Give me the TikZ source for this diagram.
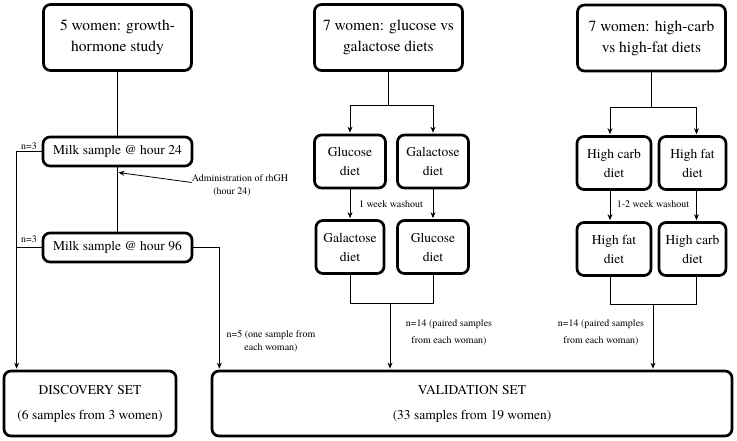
\documentclass[tikz,border=0pt]{standalone}
\usepackage{fontspec}
\setmainfont{TeX Gyre Termes}
\newfontfamily\tms{TeX Gyre Termes}
\usetikzlibrary{arrows.meta}
\begin{document}
\begin{tikzpicture}[x=1pt,y=-1pt,
  box/.style={draw, line width=2.7pt, rounded corners=7pt, align=center, inner sep=0pt},
  title/.style={box, minimum width=148pt, minimum height=66pt, font=\tms\fontsize{15.5}{21}\selectfont},
  milk/.style={box, minimum width=149pt, minimum height=29pt, font=\tms\fontsize{13.5}{16}\selectfont},
  diet/.style={box, minimum height=53pt, font=\tms\fontsize{13.5}{19}\selectfont},
  setbox/.style={box, minimum height=65pt, font=\tms\fontsize{13.5}{25}\selectfont},
  lbl/.style={font=\tms\fontsize{10}{13}\selectfont, align=center, inner sep=0pt},
  lblw/.style={lbl, font=\tms\fontsize{10}{17}\selectfont},
  conn/.style={line width=0.8pt},
  arr/.style={conn, -{Stealth[length=6pt,width=5pt]}, shorten >=1pt}
]
\useasboundingbox (0,0) rectangle (737,440);

% titles
\node[title] (A) at (117.5,37.5) {5 women: growth-\\hormone study};
\node[title] (B) at (388.5,37.5) {7 women: glucose vs\\galactose diets};
\node[title] (C) at (651.5,38) {7 women: high-carb\\vs high-fat diets};

% growth hormone column
\node[milk] (M1) at (117.5,151.5) {Milk sample @ hour 24};
\node[milk] (M2) at (117.5,247.5) {Milk sample @ hour 96};
\node[lbl] (adm) at (240,185.5) {Administration of rhGH\\\hspace*{-16pt}(hour 24)};
\node[lbl] (n3a) at (29,146) {n=3};
\node[lbl] (n3b) at (29,239) {n=3};

% glucose column
\node[diet, minimum width=71pt] (G1) at (350,161.5) {Glucose\\diet};
\node[diet, minimum width=71pt] (G2) at (433,161.5) {Galactose\\diet};
\node[diet, minimum width=68pt] (G3) at (350,247) {Galactose\\diet};
\node[diet, minimum width=71pt] (G4) at (433,247) {Glucose\\diet};
\node[lbl] (w1) at (391,204) {1 week washout};

% high carb column
\node[diet, minimum width=74pt] (H1) at (614,163) {High carb\\diet};
\node[diet, minimum width=67pt] (H2) at (692.5,163) {High fat\\diet};
\node[diet, minimum width=74pt] (H3) at (614,249) {High fat\\diet};
\node[diet, minimum width=67pt] (H4) at (692.5,249) {High carb\\diet};
\node[lbl] (w2) at (653,204) {1-2 week washout};

% bottom sets
\node[setbox, minimum width=172pt] (D) at (90,403.5) {DISCOVERY SET\\(6 samples from 3 women)};
\node[setbox, minimum width=520pt] (V) at (472,403.5) {VALIDATION SET\\(33 samples from 19 women)};

\node[lbl] (n5) at (271,341.5) {n=5 (one sample from\\each woman)};
\node[lblw] (n14a) at (449,332.5) {n=14 (paired samples\\from each woman)};
\node[lblw] (n14b) at (601,332.5) {n=14 (paired samples\\from each woman)};

% connectors: growth hormone
\draw[conn] (A) -- (M1);
\draw[conn] (M1) -- (M2);
\draw[arr] ([yshift=3pt]adm.west) -- ([yshift=-5pt]M1.south);
\draw[arr] (M1.west) -- ++(-25,0) coordinate (dl) -- (dl |- D.north);
\draw[conn] (M2.west) -- (M2.west -| dl);
\draw[arr] (M2.east) -- ++(26,0) coordinate (dr) -- (dr |- V.north);

% connectors: glucose
\draw[conn] (B.south) -- ++(0,34) coordinate (bs);
\draw[arr] (bs) -| (G1.north);
\draw[arr] (bs) -| (G2.north);
\draw[arr] (G1) -- (G3);
\draw[arr] (G2) -- (G4);
\draw[conn] (G3.south) -- ++(0,29) coordinate (g3b) -- (g3b -| G4) -- (G4.south);
\coordinate (gm) at (390,304);
\draw[arr] (gm) -- (gm |- V.north);

% connectors: high carb
\draw[conn] (C.south) -- ++(0,35) coordinate (cs);
\coordinate (h1) at ([xshift=-4pt]H1.north);
\coordinate (h2) at ([xshift=4pt]H2.north);
\draw[arr] (cs) -| (h1);
\draw[arr] (cs) -| (h2);
\draw[arr] (h1 |- H1.south) -- (h1 |- H3.north);
\draw[arr] (h2 |- H2.south) -- (h2 |- H4.north);
\draw[conn] (h1 |- H3.south) -- ++(0,28) coordinate (h3b) -- (h3b -| h2) -- (h2 |- H4.south);
\coordinate (hm) at (653,304);
\draw[arr] (hm) -- (hm |- V.north);
\end{tikzpicture}
\end{document}
